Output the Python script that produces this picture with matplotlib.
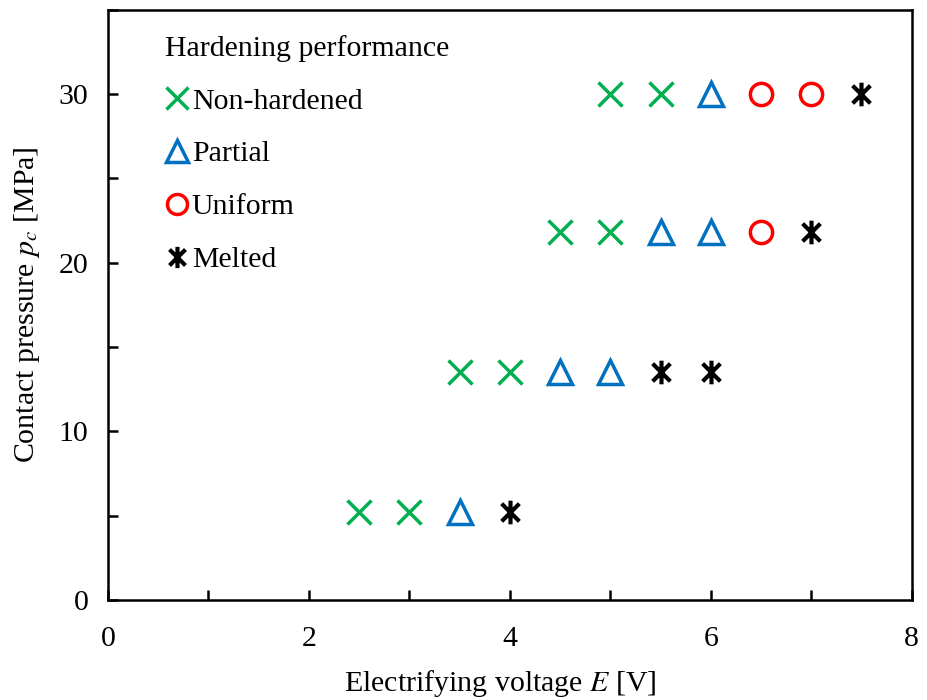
import matplotlib.pyplot as plt
from matplotlib.path import Path
from matplotlib.ticker import MultipleLocator

plt.rcParams["font.family"] = ["Liberation Serif", "DejaVu Serif"]
plt.rcParams["mathtext.fontset"] = "stix"

# Electrifying voltage [V] and contact pressure [MPa] per category
non_hardened_E = [2.5, 3.0, 3.5, 4.0, 4.5, 5.0, 5.0, 5.5]
non_hardened_p = [5.2, 5.2, 13.5, 13.5, 21.8, 21.8, 30.0, 30.0]

partial_E = [3.5, 4.5, 5.0, 5.5, 6.0, 6.0]
partial_p = [5.2, 13.5, 13.5, 21.8, 21.8, 30.0]

uniform_E = [6.5, 6.5, 7.0]
uniform_p = [21.8, 30.0, 30.0]

melted_E = [4.0, 5.5, 6.0, 7.0, 7.5]
melted_p = [5.2, 13.5, 13.5, 21.8, 30.0]

# vertical bar + X, like the Excel "ж" marker
melted_marker = Path(
    [(0, -1), (0, 1), (-0.75, -0.75), (0.75, 0.75), (-0.75, 0.75), (0.75, -0.75)],
    [Path.MOVETO, Path.LINETO, Path.MOVETO, Path.LINETO, Path.MOVETO, Path.LINETO],
)

fs = 21.5

fig = plt.figure(figsize=(9.27, 7.0), dpi=100)
ax = fig.add_axes([0.1165, 0.143, 0.867, 0.843])

mew = 2.5
ax.plot(non_hardened_E, non_hardened_p, linestyle="none", marker="x",
        color="#00B050", markersize=17, markeredgewidth=mew, label="Non-hardened")
ax.plot(partial_E, partial_p, linestyle="none", marker="^", markerfacecolor="none",
        markeredgecolor="#0070C0", markersize=17, markeredgewidth=mew, label="Partial")
ax.plot(uniform_E, uniform_p, linestyle="none", marker="o", markerfacecolor="none",
        markeredgecolor="#FF0000", markersize=16, markeredgewidth=mew, label="Uniform")
ax.plot(melted_E, melted_p, linestyle="none", marker=melted_marker,
        color="black", markersize=17, markeredgewidth=mew + 0.5, label="Melted")

ax.set_xlim(0, 8)
ax.set_ylim(0, 35)
ax.xaxis.set_major_locator(MultipleLocator(2))
ax.xaxis.set_minor_locator(MultipleLocator(1))
ax.yaxis.set_major_locator(MultipleLocator(10))
ax.yaxis.set_minor_locator(MultipleLocator(5))
ax.tick_params(which="both", direction="in", labelsize=fs, width=1.8, length=7)
ax.tick_params(axis="y", pad=14)
ax.tick_params(axis="x", pad=19)
for spine in ax.spines.values():
    spine.set_linewidth(1.8)

ax.set_xlabel("Electrifying voltage $E$ [V]", fontsize=fs, labelpad=10)
ax.xaxis.set_label_coords(0.488, -0.115)
ax.set_ylabel("Contact pressure $p_c$ [MPa]", fontsize=fs, labelpad=12)

leg = ax.legend(title="Hardening performance", loc="upper left",
                bbox_to_anchor=(0.056, 0.978), frameon=False, fontsize=fs,
                title_fontsize=fs, handlelength=0.8, handletextpad=0.1,
                labelspacing=0.87, markerscale=0.9, borderaxespad=0.0)
leg._legend_box.align = "left"

fig.savefig("out.png", dpi=100)
